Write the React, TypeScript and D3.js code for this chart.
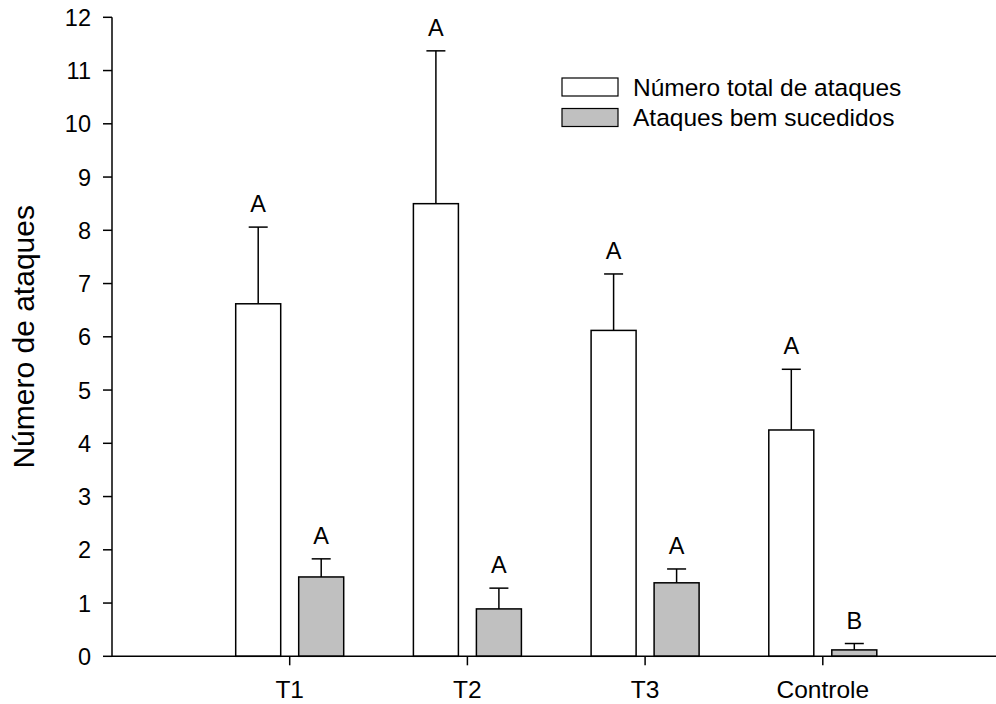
import React from "react";
import * as d3 from "d3";

const categories = ["T1", "T2", "T3", "Controle"];
const totalMeans = [6.62, 8.5, 6.12, 4.25];
const totalUpper = [8.06, 11.37, 7.18, 5.39];
const successMeans = [1.49, 0.89, 1.38, 0.12];
const successUpper = [1.83, 1.28, 1.64, 0.24];
const totalLetters = ["A", "A", "A", "A"];
const successLetters = ["A", "A", "A", "B"];
const yTicks = [0, 1, 2, 3, 4, 5, 6, 7, 8, 9, 10, 11, 12];
const seriesNames = ["Número total de ataques", "Ataques bem sucedidos"];
const seriesColors = ["#ffffff", "#c0c0c0"];

const W = 996;
const H = 704;
const FONT = "Arial, 'Liberation Sans', sans-serif";

export default function App() {
  const x0 = 112;
  const step = 177.7;
  const x = d3.scaleLinear().domain([0, 1]).range([x0, x0 + step]);
  const y = d3.scaleLinear().domain([0, 12]).range([656.3, 17.3]);
  const barW = 45;
  const gap = 18;
  const capW = 19;

  const series = [
    { means: totalMeans, upper: totalUpper, letters: totalLetters, offset: -(gap / 2 + barW / 2) },
    { means: successMeans, upper: successUpper, letters: successLetters, offset: gap / 2 + barW / 2 },
  ];

  return (
    <svg width={W} height={H} style={{ position: "absolute", left: 0, top: 0 }} fontFamily={FONT}>
      <rect width={W} height={H} fill="#fff" />
      {series.map((s, si) =>
        categories.map((c, i) => {
          const cx = x(i + 1) + s.offset;
          const top = y(s.means[i]);
          const cap = y(s.upper[i]);
          return (
            <g key={`${si}-${c}`}>
              <line x1={cx} x2={cx} y1={top} y2={cap} stroke="#000" strokeWidth={1.5} />
              <line x1={cx - capW / 2} x2={cx + capW / 2} y1={cap} y2={cap} stroke="#000" strokeWidth={1.5} />
              <rect
                x={cx - barW / 2}
                y={top}
                width={barW}
                height={y(0) - top}
                fill={seriesColors[si]}
                stroke="#000"
                strokeWidth={1.5}
              />
              <text x={cx} y={cap - 15} textAnchor="middle" fontSize={23.5} fill="#000">
                {s.letters[i]}
              </text>
            </g>
          );
        })
      )}
      {/* axes */}
      <line x1={x0} x2={x0} y1={y(12)} y2={y(0)} stroke="#000" strokeWidth={1.5} />
      <line x1={x0} x2={996} y1={y(0)} y2={y(0)} stroke="#000" strokeWidth={1.5} />
      {yTicks.map((t) => (
        <g key={t}>
          <line x1={x0 - 9} x2={x0} y1={y(t)} y2={y(t)} stroke="#000" strokeWidth={1.5} />
          <text x={x0 - 21} y={y(t)} dy="0.36em" textAnchor="end" fontSize={23.5} fill="#000">
            {t}
          </text>
        </g>
      ))}
      {categories.map((c, i) => (
        <g key={c}>
          <line x1={x(i + 1)} x2={x(i + 1)} y1={y(0)} y2={y(0) + 9} stroke="#000" strokeWidth={1.5} />
          <text x={x(i + 1)} y={698} textAnchor="middle" fontSize={24.5} fill="#000">
            {c}
          </text>
        </g>
      ))}
      <text
        transform={`translate(34, ${(y(0) + y(12)) / 2}) rotate(-90)`}
        textAnchor="middle"
        fontSize={30}
        fill="#000"
      >
        Número de ataques
      </text>
      {/* legend */}
      {seriesNames.map((n, i) => (
        <g key={n} transform={`translate(562, ${78 + i * 30.5})`}>
          <rect width={56} height={18} fill={seriesColors[i]} stroke="#000" strokeWidth={1.2} />
          <text x={71} y={9} dy="0.36em" fontSize={24.5} fill="#000">
            {n}
          </text>
        </g>
      ))}
    </svg>
  );
}
